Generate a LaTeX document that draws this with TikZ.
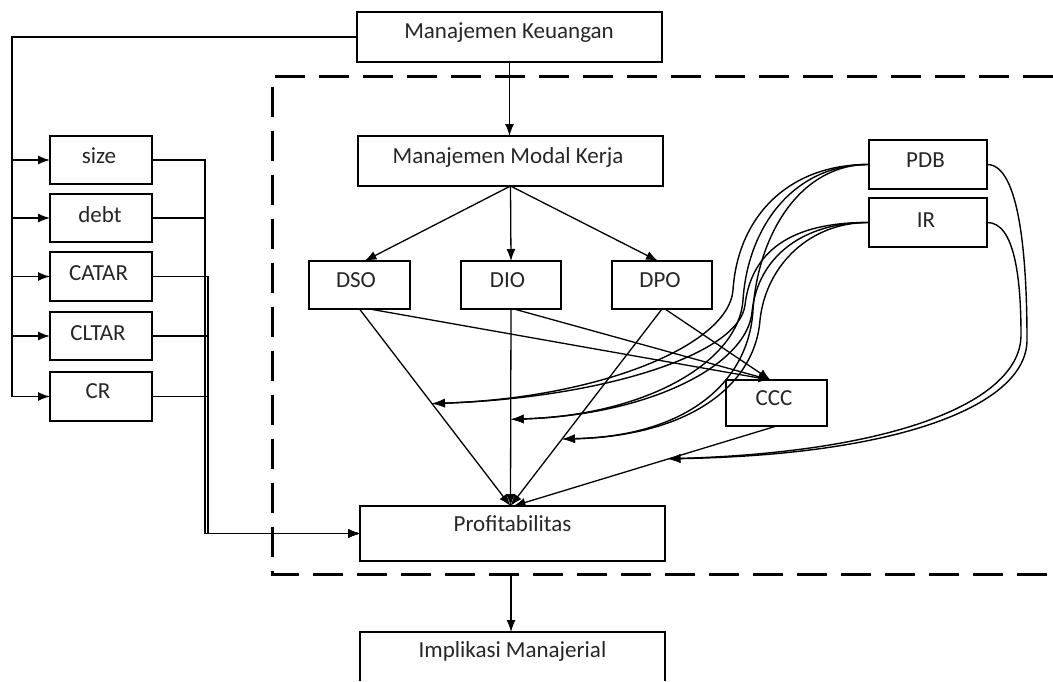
\documentclass[tikz,border=0pt]{standalone}
\usepackage{fontspec}
\setmainfont{Carlito}
\usetikzlibrary{arrows.meta,calc}
\begin{document}
\begin{tikzpicture}[x=1pt,y=-1pt,
  box/.style={draw,line width=1.8pt,inner sep=0pt,outer sep=0pt},
  lbl/.style={anchor=base,inner sep=0pt,text=black!85,font=\fontsize{23}{27}\selectfont},
  conn/.style={line width=1.3pt},
  arr/.style={conn,-{Latex[length=12pt,width=9pt]}},
  marr/.style={line width=1.4pt,-{Latex[length=13pt,width=9pt]}},
  dashbox/.style={line width=3pt,dash pattern=on 30pt off 14pt}]
\useasboundingbox[fill=white] (0,0) rectangle (1053,681);

% boxes
\node[box,minimum width=305pt,minimum height=50pt] (mk) at (509.5,37) {};
\node[box,minimum width=305pt,minimum height=50pt] (mmk) at (510.5,161) {};
\node[box,minimum width=102pt,minimum height=48pt] (size) at (101,160) {};
\node[box,minimum width=102pt,minimum height=48pt] (debt) at (101,218) {};
\node[box,minimum width=102pt,minimum height=49pt] (catar) at (101,276.5) {};
\node[box,minimum width=102pt,minimum height=48pt] (cltar) at (101,336) {};
\node[box,minimum width=102pt,minimum height=49pt] (cr) at (101,396.5) {};
\node[box,minimum width=101pt,minimum height=48pt] (dso) at (359.5,285) {};
\node[box,minimum width=100pt,minimum height=48pt] (dio) at (511,285) {};
\node[box,minimum width=100pt,minimum height=48pt] (dpo) at (662,285) {};
\node[box,minimum width=101pt,minimum height=46pt] (ccc) at (776.5,403) {};
\node[box,minimum width=118pt,minimum height=49pt] (pdb) at (928,164.5) {};
\node[box,minimum width=118pt,minimum height=49pt] (ir) at (928,222.5) {};
\node[box,minimum width=305pt,minimum height=55pt] (profit) at (512.5,533.5) {};
\node[inner sep=0pt,outer sep=0pt,minimum width=305pt,minimum height=49pt] (impl) at (512.5,656.5) {};
\draw[line width=1.8pt] (impl.south west) -- (impl.north west) -- (impl.north east) -- (impl.south east);

% labels
\node[lbl] (tmk) at (509,38) {Manajemen Keuangan};
\node[lbl] (tmmk) at (508,163) {Manajemen Modal Kerja};
\node[lbl] (tsize) at (99,163) {size};
\node[lbl] (tdebt) at (100,222) {debt};
\node[lbl] (tcatar) at (98.5,280) {CATAR};
\node[lbl] (tcltar) at (98,340) {CLTAR};
\node[lbl] (tcr) at (98,398) {CR};
\node[lbl] (tdso) at (356,287) {DSO};
\node[lbl] (tdio) at (507.5,287) {DIO};
\node[lbl] (tdpo) at (660,287) {DPO};
\node[lbl] (tccc) at (774,405) {CCC};
\node[lbl] (tpdb) at (925.5,167) {PDB};
\node[lbl] (tir) at (926,227) {IR};
\node[lbl] (tprofit) at (512.5,531) {Profitabilitas};
\node[lbl] (timpl) at (512.5,657) {Implikasi Manajerial};

% dashed frame
\draw[dashbox] (1053,76) -- (272,76) -- (272,574) -- (1053,574);

% left bus
\draw[conn] (mk.west) -- (12,37) coordinate (ltop) -- (ltop |- cr.west);
\foreach \n in {size,debt,catar,cltar,cr}
  \draw[arr] (ltop |- \n.west) -- (\n.west);

% right bus
\coordinate (busA) at (205,533.5);
\coordinate (busB) at (208,533.5);
\foreach \n in {size,debt}
  \draw[arr] (\n.east) -| (busA) -- (profit.west);
\foreach \n in {catar,cltar,cr}
  \draw[arr] (\n.east) -| (busB) -- (profit.west);

% top arrows
\draw[arr] (mk.south) -- (mk.south |- mmk.north);
\draw[arr] (mmk.south) -- ([xshift=5pt]dso.north);
\draw[arr] (mmk.south) -- (dio.north);
\draw[arr] (mmk.south) -- ([xshift=-4pt]dpo.north);

% to profit / ccc
\coordinate (ptop) at ([xshift=-2pt]profit.north);
\coordinate (cctop) at ([xshift=-6pt]ccc.north);
\draw[arr] (dso.south) -- (ptop);
\draw[arr] ([xshift=10pt]dso.south) -- (cctop);
\draw[arr] (dio.south) -- (ptop);
\draw[arr] ([xshift=3pt]dio.south) -- (cctop);
\draw[arr] (dpo.south) -- (ptop);
\draw[arr] ([xshift=3pt]dpo.south) -- (cctop);
\draw[arr] (ccc.south) -- ([xshift=3pt]ptop);

% moderation targets
\coordinate (m1) at ($(dso.south)!0.48!(ptop)$);
\coordinate (m2) at ($(dio.south)!0.56!(ptop)$);
\coordinate (m3) at ($(dpo.south)!0.66!(ptop)$);
\coordinate (m4) at ($(ccc.south)!0.41!(ptop)$);

\draw[marr] (pdb.west) .. controls (790,164) and (738,215) .. (733,290) .. controls (729,345) and (600,398) .. (m1);
\draw[marr] (pdb.west) .. controls (795,164) and (748,225) .. (743,300) .. controls (739,360) and (650,415) .. (m2);
\draw[marr] (pdb.west) .. controls (800,164) and (758,235) .. (753,310) .. controls (749,380) and (690,436) .. (m3);
\draw[marr] (ir.west) .. controls (800,222) and (752,245) .. (745,305) .. controls (739,355) and (600,398) .. (m1);
\draw[marr] (ir.west) .. controls (805,222) and (758,255) .. (752,312) .. controls (747,365) and (650,415) .. (m2);
\draw[marr] (ir.west) .. controls (810,222) and (766,265) .. (760,320) .. controls (755,385) and (690,436) .. (m3);
\draw[marr] (pdb.east) .. controls (1020,164) and (1027,260) .. (1027,340) .. controls (1027,405) and (900,455) .. (m4);
\draw[marr] (ir.east) .. controls (1015,222) and (1021,280) .. (1021,335) .. controls (1021,400) and (900,452) .. (m4);

% to implikasi
\coordinate (dbot) at (511,576);
\draw[arr] (dbot) -- (dbot |- impl.north);
\end{tikzpicture}
\end{document}
